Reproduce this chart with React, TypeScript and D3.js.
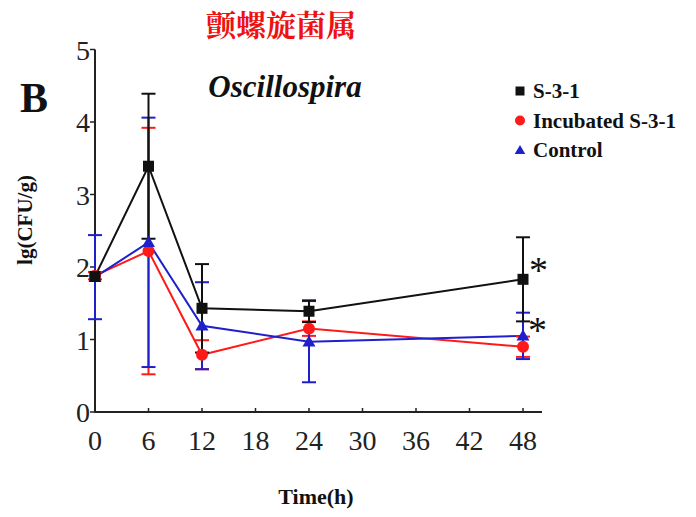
import React from "react";
import * as d3 from "d3";

const times = [0, 6, 12, 24, 48];
const xTicks = [0, 6, 12, 18, 24, 30, 36, 42, 48];
const yTicks = [0, 1, 2, 3, 4, 5];

const s31Mean = [1.87, 3.39, 1.43, 1.39, 1.83];
const s31Err = [0.0, 1.0, 0.61, 0.15, 0.58];
const incMean = [1.88, 2.22, 0.79, 1.15, 0.9];
const incErr = [0.05, 1.7, 0.2, 0.1, 0.14];
const ctlMean = [1.86, 2.34, 1.19, 0.97, 1.05];
const ctlErr = [0.58, 1.72, 0.6, 0.56, 0.32];

const seriesNames = ["S-3-1", "Incubated S-3-1", "Control"];
const seriesColors = ["#111111", "#ff1a1a", "#1f1fcc"];

const W = 696;
const H = 517;

export default function App() {
  const x = d3.scaleLinear().domain([0, 48]).range([95, 523]);
  const y = d3.scaleLinear().domain([0, 5]).range([412, 49.5]);
  const line = d3
    .line<[number, number]>()
    .x((d) => x(d[0]))
    .y((d) => y(d[1]));

  const series = [
    { name: seriesNames[0], mean: s31Mean, err: s31Err, color: seriesColors[0], shape: "square" },
    { name: seriesNames[1], mean: incMean, err: incErr, color: seriesColors[1], shape: "circle" },
    { name: seriesNames[2], mean: ctlMean, err: ctlErr, color: seriesColors[2], shape: "triangle" },
  ];

  const marker = (shape: string, cx: number, cy: number, color: string, s: number) => {
    if (shape === "square")
      return <rect x={cx - s / 2} y={cy - s / 2} width={s} height={s} fill={color} />;
    if (shape === "circle") return <circle cx={cx} cy={cy} r={s / 2 + 0.5} fill={color} />;
    const p = d3.symbol(d3.symbolTriangle, s * s * 0.6)();
    return <path d={p || ""} transform={`translate(${cx},${cy + 1})`} fill={color} />;
  };

  const serif = "'Liberation Serif', 'DejaVu Serif', serif";
  const drawOrder = [1, 2, 0];

  return (
    <svg
      width={W}
      height={H}
      style={{ position: "absolute", left: 0, top: 0, background: "#fff" }}
      fontFamily={serif}
    >
      <rect x={0} y={0} width={W} height={H} fill="#fff" />
      {/* title */}
      <text
        x={281}
        y={36}
        textAnchor="middle"
        fontSize={30}
        fontWeight="bold"
        fill="#ee1111"
        fontFamily="'Noto Serif CJK SC', 'Noto Sans CJK SC', sans-serif"
      >
        颤螺旋菌属
      </text>
      <text x={20} y={112} fontSize={42} fontWeight="bold" fill="#111">
        B
      </text>
      <text x={285} y={97} textAnchor="middle" fontSize={31} fontWeight="bold" fontStyle="italic" fill="#111">
        Oscillospira
      </text>

      {/* axes */}
      <line x1={x(0)} x2={x(0)} y1={y(5)} y2={y(0)} stroke="#222" strokeWidth={2} />
      <line x1={x(0)} x2={542} y1={y(0)} y2={y(0)} stroke="#222" strokeWidth={2} />
      {yTicks.map((t) => (
        <g key={"y" + t}>
          <line x1={x(0) - 5} x2={x(0)} y1={y(t)} y2={y(t)} stroke="#222" strokeWidth={1.5} />
          <text x={x(0) - 5} y={y(t) + 10} textAnchor="end" fontSize={28} fill="#222">
            {t}
          </text>
        </g>
      ))}
      {xTicks.map((t) => (
        <g key={"x" + t}>
          <line x1={x(t)} x2={x(t)} y1={y(0) - 4} y2={y(0) + 1} stroke="#222" strokeWidth={1.5} />
          <text x={x(t)} y={y(0) + 38} textAnchor="middle" fontSize={28} fill="#222">
            {t}
          </text>
        </g>
      ))}
      <text x={316} y={504} textAnchor="middle" fontSize={22} fontWeight="bold" fill="#111">
        Time(h)
      </text>
      <text
        transform={`translate(32,220) rotate(-90)`}
        textAnchor="middle"
        fontSize={21}
        fontWeight="bold"
        fill="#111"
      >
        lg(CFU/g)
      </text>

      {/* lines */}
      {drawOrder.map((i) => {
        const s = series[i];
        const pts = times.map((t, j) => [t, s.mean[j]] as [number, number]);
        return (
          <path key={"l" + i} d={line(pts) || ""} fill="none" stroke={s.color} strokeWidth={2} />
        );
      })}
      {/* error bars */}
      {drawOrder.map((i) => {
        const s = series[i];
        return times.map((t, j) => {
          const e = s.err[j];
          if (e <= 0) return null;
          const cx = x(t);
          const top = y(s.mean[j] + e);
          const bot = y(s.mean[j] - e);
          return (
            <g key={"e" + i + "-" + j} stroke={s.color} strokeWidth={2}>
              <line x1={cx} x2={cx} y1={top} y2={bot} />
              <line x1={cx - 7} x2={cx + 7} y1={top} y2={top} />
              <line x1={cx - 7} x2={cx + 7} y1={bot} y2={bot} />
            </g>
          );
        });
      })}
      {/* markers */}
      {drawOrder.map((i) => {
        const s = series[i];
        return times.map((t, j) => (
          <g key={"m" + i + "-" + j}>{marker(s.shape, x(t), y(s.mean[j]), s.color, 11)}</g>
        ));
      })}

      {/* asterisks */}
      <text x={529} y={y(s31Mean[4]) + 4} fontSize={38} fill="#111">
        *
      </text>
      <text x={528} y={y(ctlMean[4]) + 7} fontSize={38} fill="#111">
        *
      </text>

      {/* legend */}
      {series.map((s, i) => {
        const ly = 91 + i * 29.5;
        return (
          <g key={"lg" + i}>
            {marker(s.shape, 520, ly, s.color, 9)}
            <text x={533} y={ly + 7} fontSize={21} fontWeight="bold" fill="#111">
              {s.name}
            </text>
          </g>
        );
      })}
    </svg>
  );
}
